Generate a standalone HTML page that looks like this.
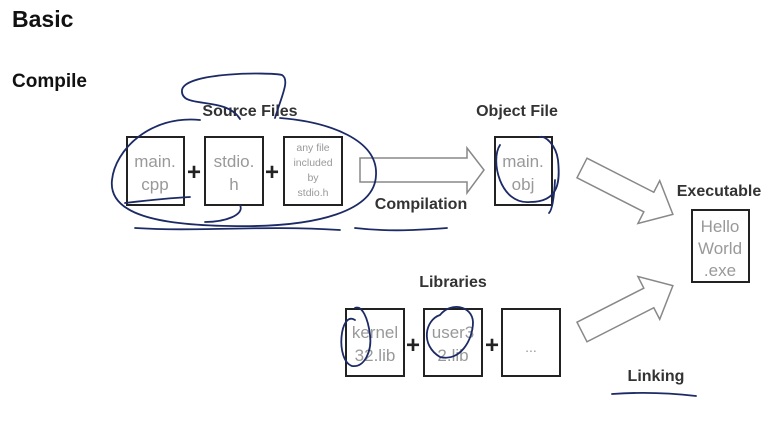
<!DOCTYPE html>
<html><head><meta charset="utf-8"><style>
html,body{margin:0;padding:0;background:#fff;}
svg{display:block;}
text{font-family:"Liberation Sans",sans-serif;}
</style></head><body>
<svg width="776" height="428" viewBox="0 0 776 428" xmlns="http://www.w3.org/2000/svg">
<text x="12" y="27" font-size="23" font-weight="bold" fill="#111">Basic</text>
<text x="12" y="87" font-size="19" font-weight="bold" fill="#111">Compile</text>

<g fill="#fff" stroke="#222" stroke-width="2">
<rect x="127" y="137" width="57" height="68"/>
<rect x="205" y="137" width="58" height="68"/>
<rect x="284" y="137" width="58" height="68"/>
<rect x="495" y="137" width="57" height="68"/>
<rect x="692" y="210" width="57" height="72"/>
<rect x="346" y="309" width="58" height="67"/>
<rect x="424" y="309" width="58" height="67"/>
<rect x="502" y="309" width="58" height="67"/>
</g>

<g fill="#999" text-anchor="middle">
<text x="155" y="167" font-size="17">main.</text>
<text x="155" y="190" font-size="17">cpp</text>
<text x="234" y="167" font-size="17">stdio.</text>
<text x="234" y="190" font-size="17">h</text>
<text x="313" y="151" font-size="10.5">any file</text>
<text x="313" y="166" font-size="10.5">included</text>
<text x="313" y="181" font-size="10.5">by</text>
<text x="313" y="196" font-size="10.5">stdio.h</text>
<text x="523" y="167" font-size="17">main.</text>
<text x="523" y="190" font-size="17">obj</text>
<text x="720" y="232" font-size="17">Hello</text>
<text x="720" y="254" font-size="17">World</text>
<text x="720" y="276" font-size="17">.exe</text>
<text x="375" y="338" font-size="17">kernel</text>
<text x="375" y="361" font-size="17">32.lib</text>
<text x="453" y="338" font-size="17">user3</text>
<text x="453" y="361" font-size="17">2.lib</text>
<text x="531" y="352" font-size="14">...</text>
</g>

<g font-size="24" font-weight="bold" fill="#222" text-anchor="middle">
<text x="194" y="180">+</text>
<text x="272" y="180">+</text>
<text x="413" y="353">+</text>
<text x="492" y="353">+</text>
</g>

<g font-size="16" font-weight="bold" fill="#333" text-anchor="middle">
<text x="250" y="116">Source Files</text>
<text x="517" y="116">Object File</text>
<text x="421" y="209">Compilation</text>
<text x="719" y="196">Executable</text>
<text x="453" y="287">Libraries</text>
<text x="656" y="381">Linking</text>
</g>

<g fill="#fff" stroke="#888" stroke-width="1.5">
<polygon points="360,158 467,158 467,148 484,170 467,193 467,182 360,182"/>
<g transform="translate(582,168) rotate(27)">
<polygon points="0,-11 75,-11 75,-24 102,0 75,24 75,11 0,11"/>
</g>
<g transform="translate(582,332) rotate(-27)">
<polygon points="0,-11 75,-11 75,-24 102,0 75,24 75,11 0,11"/>
</g>
</g>

<g fill="none" stroke="#1c2a66" stroke-width="1.8" stroke-linecap="round">
<path d="M240,119 C225,95 180,110 182,90 C185,72 270,72 282,75 C290,80 282,95 275,118"/>
<path d="M200,120 C150,115 115,150 112,180 C108,215 160,225 230,226 C320,228 375,210 376,175 C378,140 330,122 280,118"/>
<path d="M125,203 C150,200 170,198 190,197"/>
<path d="M135,228 C200,232 260,225 340,230"/>
<path d="M240,205 C245,215 225,222 205,222"/>
<path d="M355,228 C390,232 420,230 447,228"/>
<path d="M500,145 C490,160 500,205 530,202 C560,202 560,180 558,160 C556,145 545,135 540,137"/>
<path d="M555,180 C554,200 552,210 549,213"/>
<path d="M355,320 C340,310 335,360 352,366 C365,368 372,350 370,335 C368,318 362,305 355,308"/>
<path d="M440,315 C425,320 420,345 440,357 C460,362 473,340 473,322 C472,305 450,302 440,315"/>
<path d="M612,394 C640,392 670,393 696,396"/>
</g>
</svg>
</body></html>
